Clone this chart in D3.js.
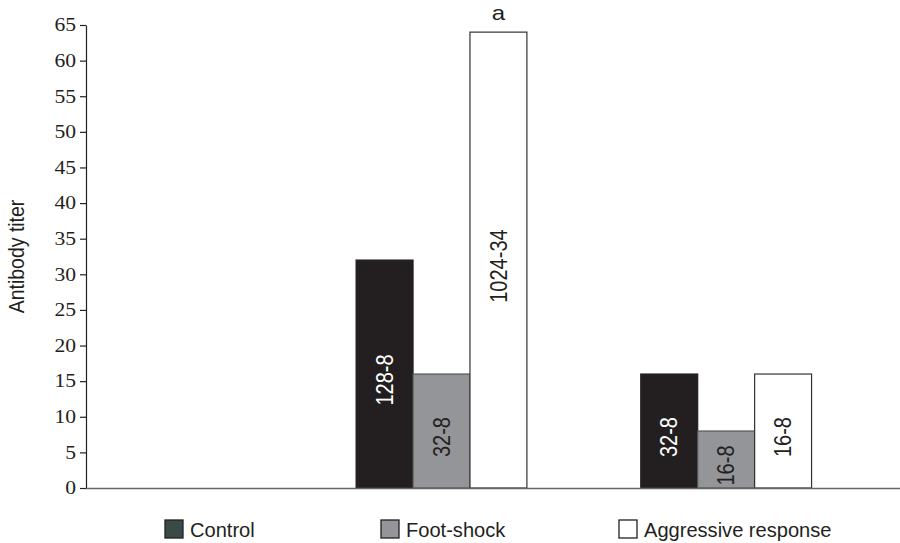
<!DOCTYPE html>
<html>
<head>
<meta charset="utf-8">
<script src="https://cdn.jsdelivr.net/npm/d3@7"></script>
<style>
  body { margin: 0; background: #fff; }
  svg { display: block; }
</style>
</head>
<body>
<div id="chart"></div>
<script>

// data
const groups = ["Group 1", "Group 2", "Group 3"];
const series = ["Control", "Foot-shock", "Aggressive response"];
const controlVals = [null, 32, 16];
const footshockVals = [null, 16, 8];
const aggressiveVals = [null, 64, 16];
const controlLabels = ["", "128-8", "32-8"];
const footshockLabels = ["", "32-8", "16-8"];
const aggressiveLabels = ["", "1024-34", "16-8"];
const yTicks = [0, 5, 10, 15, 20, 25, 30, 35, 40, 45, 50, 55, 60, 65];
const yTitle = "Antibody titer";
const note = "a"; // marker above the tallest bar

const width = 900, height = 543;
const margin = {top: 25, left: 86, bottom: 488};
const stretch = 1.2; // the source figure is a bit wider than tall

const svg = d3.select("#chart")
  .append("svg")
    .attr("width", width)
    .attr("height", height);

// scales
const x = d3.scaleBand()
    .domain(groups)
    .range([14.5, 868.5])
    .paddingInner(0.4)
    .paddingOuter(0.2);

const xs = d3.scaleBand()
    .domain(series)
    .range([0, x.bandwidth()]);

const y = d3.scaleLinear()
    .domain([0, 65])
    .range([margin.bottom, margin.top]);

const fills = ["#231f20", "#939598", "#ffffff"];
const strokes = ["#231f20", "#555555", "#333333"];
const textFill = ["#ffffff", "#231f20", "#231f20"];
const legendFills = ["#3a4a46", "#939598", "#ffffff"];

const allVals = [controlVals, footshockVals, aggressiveVals];
const allLabels = [controlLabels, footshockLabels, aggressiveLabels];

// flatten into bar records
const bars = [];
groups.forEach(function(g, gi) {
  series.forEach(function(s, si) {
    const v = allVals[si][gi];
    if (v == null) return;
    bars.push({group: g, series: s, si: si, value: v, label: allLabels[si][gi]});
  });
});

// bars
svg.append("g")
  .selectAll("rect")
  .data(bars)
  .join("rect")
    .attr("x", function(d) { return x(d.group) + xs(d.series); })
    .attr("y", function(d) { return y(d.value); })
    .attr("width", xs.bandwidth())
    .attr("height", function(d) { return y(0) - y(d.value); })
    .style("fill", function(d) { return fills[d.si]; })
    .style("stroke", function(d) { return strokes[d.si]; })
    .style("stroke-width", 1.2);

// rotated labels inside bars
svg.append("g")
  .selectAll("text")
  .data(bars)
  .join("text")
    .attr("transform", function(d) {
      const cx = x(d.group) + xs(d.series) + xs.bandwidth() / 2;
      const cy = y(d.value / 2) + 6;
      return `translate(${cx},${cy}) rotate(-90) scale(1,${stretch})`;
    })
    .attr("text-anchor", "middle")
    .attr("dominant-baseline", "central")
    .style("font-family", "'Liberation Sans', Arial, sans-serif")
    .style("font-size", "20px")
    .style("fill", function(d) { return textFill[d.si]; })
    .text(function(d) { return d.label; });

// "a" marker above the max bar
const tallest = bars.reduce(function(a, b) { return b.value > a.value ? b : a; });
svg.append("text")
    .attr("transform", `translate(${x(tallest.group) + xs(tallest.series) + xs.bandwidth() / 2},${y(tallest.value) - 12}) scale(${stretch},1)`)
    .attr("text-anchor", "middle")
    .style("font-family", "'Liberation Sans', Arial, sans-serif")
    .style("font-size", "20px")
    .style("fill", "#231f20")
    .text(note);

// y axis
const yAxis = svg.append("g")
    .attr("transform", `translate(${margin.left},0)`)
    .call(d3.axisLeft(y).tickValues(yTicks).tickSize(6).tickSizeOuter(0).tickPadding(4));
yAxis.selectAll("text")
    .attr("transform", `translate(-10,0) scale(1.2,1) translate(10,0)`)
    .style("font-family", "'Liberation Serif', 'Times New Roman', serif")
    .style("font-size", "18px")
    .style("fill", "#231f20");
yAxis.selectAll("line, path").style("stroke", "#231f20").style("stroke-width", 1.2);

// baseline
svg.append("line")
    .attr("x1", margin.left)
    .attr("x2", width)
    .attr("y1", y(0) + 0.5)
    .attr("y2", y(0) + 0.5)
    .style("stroke", "#666")
    .style("stroke-width", 1.6);

// y title
svg.append("text")
    .attr("transform", `translate(24,${(y(0) + y(65)) / 2}) rotate(-90) scale(1,1.1)`)
    .attr("text-anchor", "middle")
    .style("font-family", "'Liberation Sans', Arial, sans-serif")
    .style("font-size", "19.5px")
    .style("fill", "#231f20")
    .text(yTitle);

// legend
const legendX = [165, 381, 619];
const legend = svg.append("g")
  .selectAll("g")
  .data(series)
  .join("g")
    .attr("transform", function(d, i) { return `translate(${legendX[i]},520)`; });
legend.append("rect")
    .attr("width", 18)
    .attr("height", 18)
    .style("fill", function(d, i) { return legendFills[i]; })
    .style("stroke", "#231f20")
    .style("stroke-width", 1.3);
legend.append("text")
    .attr("transform", `translate(25,17) scale(1.03,1)`)
    .style("font-family", "'Liberation Sans', Arial, sans-serif")
    .style("font-size", "19.5px")
    .style("fill", "#231f20")
    .text(function(d) { return d; });

</script>
</body>
</html>
